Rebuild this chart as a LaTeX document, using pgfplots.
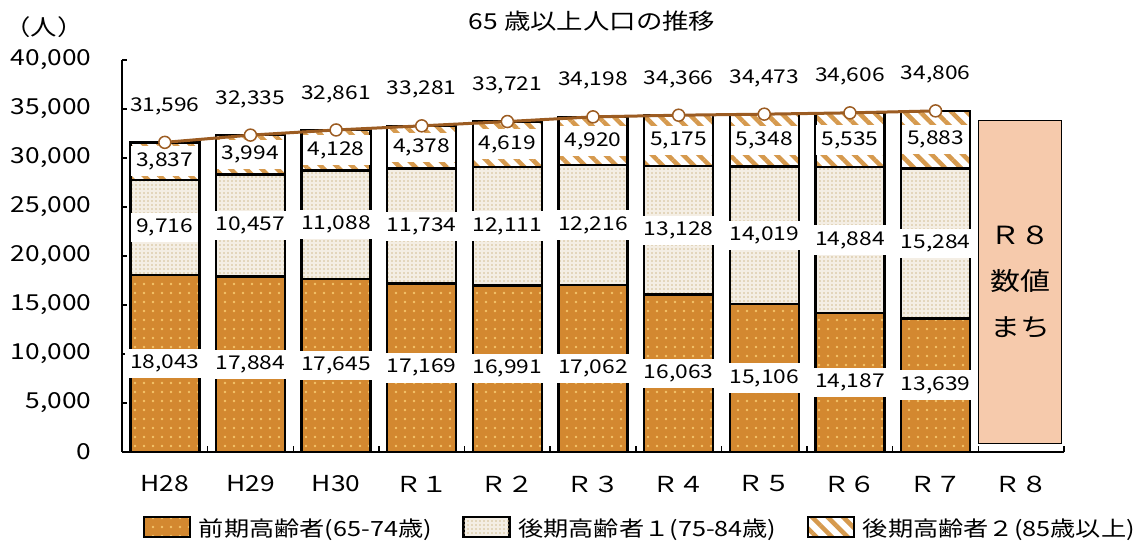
\documentclass[border=0pt]{standalone}
\usepackage{pgfplots}
\pgfplotsset{compat=1.18}
\usepackage{pgfplotstable}
\usepackage{fontspec}
\setmainfont{Noto Sans CJK JP}[FakeStretch=1.2]
\usetikzlibrary{patterns.meta}

\definecolor{zenki}{HTML}{D38830}
\definecolor{zenkidot}{HTML}{F5C46A}
\definecolor{koki}{HTML}{F4EEE4}
\definecolor{kokidot}{HTML}{D3BE94}
\definecolor{koki2}{HTML}{D69A4E}
\definecolor{sen}{HTML}{9C5C22}
\definecolor{machi}{HTML}{F6CAAC}

\newcommand\fa{\fontsize{22bp}{26bp}\selectfont}
\newcommand\fb{\fontsize{19bp}{23bp}\selectfont}

% a: 65-74, b: 75-84, c: 85+
\pgfplotstableread{
x a b c
0 18043 9716 3837
1 17884 10457 3994
2 17645 11088 4128
3 17169 11734 4378
4 16991 12111 4619
5 17062 12216 4920
6 16063 13128 5175
7 15106 14019 5348
8 14187 14884 5535
9 13639 15284 5883
}\nenrei

\pgfplotsset{
  waku/.style={
    width=942bp, height=392bp, scale only axis,
    at={(122bp,93bp)}, anchor=south west,
    xmin=-0.5, xmax=10.5, ymin=0, ymax=40000,
  },
  leg/.style={legend image code/.code={\draw[##1, line width=1.5bp] (0bp,-9bp) rectangle (46bp,11bp);}},
}

\begin{document}
\begin{tikzpicture}
\useasboundingbox (0,0) rectangle (1139bp,545bp);

\begin{axis}[waku,
  ybar stacked, bar width=69bp,
  axis lines=left, axis line style={-, line width=1.6bp},
  tick align=inside,
  xtick={0,...,10},
  xticklabels={H28,H29,H30,Ｒ１,Ｒ２,Ｒ３,Ｒ４,Ｒ５,Ｒ６,Ｒ７,Ｒ８},
  major x tick style={draw=none},
  minor xtick={-0.5,0.5,...,10.5},
  minor tick length=6bp,
  minor x tick style={black, line width=1.5bp},
  ytick={0,5000,...,40000},
  major tick length=5bp,
  y tick style={black, line width=1.5bp},
  scaled y ticks=false,
  /pgf/number format/1000 sep={,},
  /pgf/number format/assume math mode=true,
  xticklabel style={font=\fa, anchor=center, yshift=-32bp},
  yticklabel style={font=\fa, anchor=east, xshift=-27bp},
  legend style={at={(0.55,-0.194)}, anchor=center, draw=none, fill=none,
    font=\fontsize{21bp}{25bp}\selectfont,
    /tikz/every odd column/.append style={column sep=6bp},
    /tikz/every even column/.append style={column sep=29bp}},
  legend columns=3,
]
\addplot[leg, draw=black, line width=2.5bp, preaction={fill=zenki},
  pattern={Dots[distance=9bp, radius=1.3bp]}, pattern color=zenkidot]
  table[x=x, y=a]{\nenrei};
\addlegendentry{前期高齢者(65-74歳)}
\addplot[leg, draw=black, line width=2.5bp, preaction={fill=koki},
  pattern={Dots[distance=4bp, radius=0.9bp]}, pattern color=kokidot]
  table[x=x, y=b]{\nenrei};
\addlegendentry{後期高齢者１(75-84歳)}
\addplot[leg, draw=black, line width=2.5bp, preaction={fill=white},
  pattern={Lines[angle=-45, distance=11bp, line width=4.5bp]}, pattern color=koki2]
  table[x=x, y=c]{\nenrei};
\addlegendentry{後期高齢者２(85歳以上)}

\draw[fill=machi, draw=black, line width=1bp] (axis cs:9.5,918) rectangle (axis cs:10.47,33780);
\end{axis}

% labels and total line
\begin{axis}[waku, hide axis, clip=false,
  /pgf/number format/fixed,
  /pgf/number format/precision=0,
  /pgf/number format/1000 sep={,},
  /pgf/number format/assume math mode=true,
]
\addplot[draw=none, point meta=explicit, nodes near coords,
  every node near coord/.style={font=\fb, text=black, fill=white, inner xsep=5bp, inner ysep=6bp, anchor=center}]
  table[x=x, y expr=\thisrow{a}/2, meta=a]{\nenrei};
\addplot[draw=none, point meta=explicit, nodes near coords,
  every node near coord/.style={font=\fb, text=black, fill=white, inner xsep=5bp, inner ysep=6bp, anchor=center}]
  table[x=x, y expr=\thisrow{a}+\thisrow{b}/2, meta=b]{\nenrei};
\addplot[draw=none, point meta=explicit, nodes near coords,
  every node near coord/.style={font=\fb, text=black, fill=white, inner xsep=5bp, inner ysep=6bp, anchor=center}]
  table[x=x, y expr=\thisrow{a}+\thisrow{b}+\thisrow{c}/2, meta=c]{\nenrei};
\addplot[sen, line width=3bp, mark=*, mark size=6bp,
  mark options={fill=white, draw=sen, line width=1.5bp},
  point meta=y, nodes near coords,
  every node near coord/.style={font=\fb, text=black, anchor=center, yshift=36bp}]
  table[x=x, y expr=\thisrow{a}+\thisrow{b}+\thisrow{c}]{\nenrei};
\end{axis}

\node[align=center, font=\fontsize{25bp}{46bp}\selectfont] at (1020bp,263bp) {Ｒ８\\数値\\まち};
\node[font=\fontsize{22bp}{26bp}\selectfont] at (592bp,524bp) {65 歳以上人口の推移};
\node[font=\fa] at (44bp,518bp) {（人）};
\end{tikzpicture}
\end{document}
